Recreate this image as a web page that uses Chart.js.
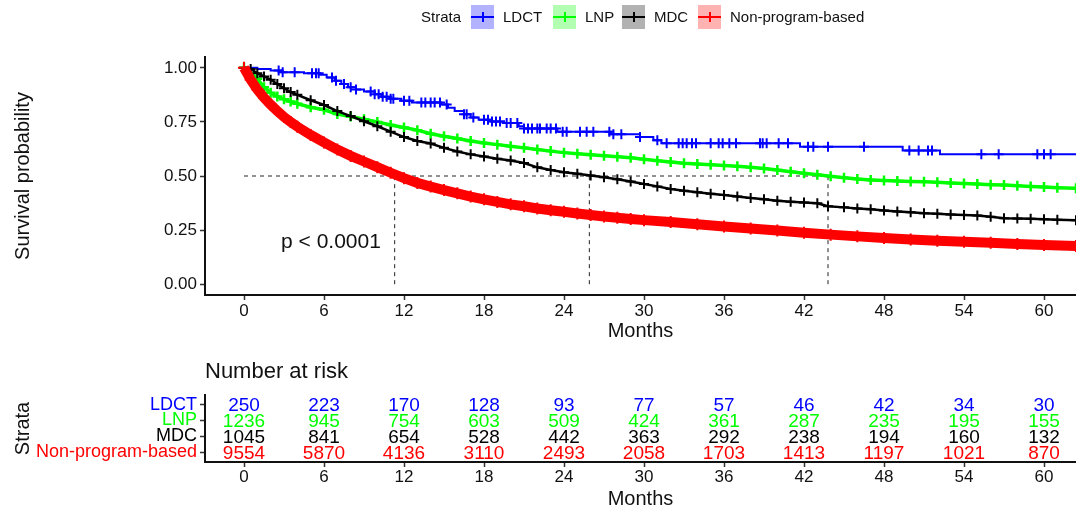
<!DOCTYPE html>
<html>
<head>
<meta charset="utf-8">
<script src="https://cdn.jsdelivr.net/npm/chart.js@4.4.1/dist/chart.umd.min.js"></script>
<style>
body{margin:0;background:#fff;font-family:"Liberation Sans",Arial,sans-serif;}
#wrap{position:relative;width:1076px;height:511px;overflow:hidden;background:#fff;}
#mainChart{position:absolute;left:0;top:0;}
#riskChart{position:absolute;left:0;top:345px;}
.lg{position:absolute;top:5px;height:24px;line-height:24px;font-size:15px;color:#111;white-space:nowrap;}
.key{position:absolute;top:5px;width:23px;height:24px;}
.key .h{position:absolute;left:0;right:0;top:11px;height:2px;}
.key .v{position:absolute;left:10.5px;width:2px;top:7px;height:10px;}
</style>
</head>
<body>
<div id="wrap">
<canvas id="mainChart" width="1076" height="345"></canvas>
<canvas id="riskChart" width="1076" height="166"></canvas>
<div id="legend"></div>
</div>
<script>
window.addEventListener("load", () => {

/* ========= DATA ========= */

const strata = ["LDCT", "LNP", "MDC", "Non-program-based"];
const strataColors = ["#0000ff", "#00ff00", "#000000", "#ff0000"];
const strataFills = ["rgba(0,0,255,0.3)", "rgba(0,255,0,0.3)", "rgba(0,0,0,0.3)", "rgba(255,0,0,0.3)"];

// LDCT: visible steps of the KM curve
const ldctStepTime = [0, 1, 2, 2.8, 4.5, 5.7, 6.2, 6.8, 7.3, 7.8, 8.4, 9, 9.8, 10.3, 11, 11.8, 12.6, 14.8, 15.3, 15.8, 16.5, 17, 17.6, 18.5, 19.5, 20.6, 21, 23.5, 27.5, 29.7, 30.7, 31.3, 41.7, 49.4, 52.2, 62.4];
const ldctStepSurv = [1, 0.995, 0.988, 0.98, 0.975, 0.968, 0.955, 0.94, 0.925, 0.91, 0.9, 0.89, 0.878, 0.866, 0.857, 0.848, 0.84, 0.83, 0.815, 0.8, 0.785, 0.77, 0.76, 0.752, 0.745, 0.73, 0.72, 0.705, 0.693, 0.68, 0.665, 0.651, 0.635, 0.618, 0.6, 0.6];
const ldctCensorTime = [2.6, 2.9, 3.8, 5.1, 5.4, 5.6, 6.6, 6.9, 7.5, 8.0, 8.4, 9.5, 9.8, 10.1, 10.4, 10.7, 11.0, 11.2, 12.0, 12.4, 13.3, 13.6, 14.0, 14.3, 14.7, 15.2, 16.5, 16.7, 17.2, 18.0, 18.3, 18.6, 18.9, 19.2, 19.7, 20.0, 20.5, 21.0, 21.3, 21.6, 22.0, 22.2, 22.7, 23.0, 23.4, 23.9, 24.2, 25.2, 25.7, 26.2, 27.4, 27.7, 28.3, 29.7, 31.0, 31.7, 32.6, 32.9, 33.2, 33.6, 33.9, 35.0, 35.6, 35.9, 36.4, 36.9, 38.7, 38.9, 39.2, 40.1, 40.8, 42.3, 42.7, 43.8, 46.5, 49.9, 50.6, 51.3, 51.6, 55.3, 56.6, 59.5, 60.0, 60.5];

const lnpTime = [0, 0.5, 1, 1.5, 2, 2.5, 3, 3.5, 4, 5, 6, 7, 8, 9, 10, 11, 12, 13, 14, 15, 16, 17, 18, 19, 20, 21, 22, 23, 24, 25, 26, 27, 28, 29, 30, 31, 32, 33, 34, 35, 36, 37, 38, 39, 40, 41, 42, 43, 44, 45, 46, 47, 48, 49, 50, 51, 52, 53, 54, 55, 56, 57, 58, 59, 60, 61, 62.4];
const lnpSurv = [1, 0.975, 0.95, 0.91, 0.885, 0.868, 0.855, 0.844, 0.834, 0.818, 0.806, 0.786, 0.775, 0.762, 0.75, 0.736, 0.724, 0.712, 0.695, 0.684, 0.673, 0.662, 0.653, 0.645, 0.637, 0.63, 0.622, 0.615, 0.608, 0.603, 0.598, 0.594, 0.589, 0.584, 0.577, 0.571, 0.565, 0.559, 0.555, 0.552, 0.549, 0.545, 0.54, 0.535, 0.528, 0.52, 0.513, 0.506, 0.499, 0.492, 0.486, 0.482, 0.479, 0.477, 0.475, 0.473, 0.471, 0.468, 0.465, 0.463, 0.46, 0.458, 0.455, 0.452, 0.449, 0.446, 0.443];

const mdcTime = [0, 0.5, 1, 1.5, 2, 2.5, 3, 3.5, 4, 5, 6, 7, 8, 9, 10, 11, 12, 13, 14, 15, 16, 17, 18, 19, 20, 21, 22, 23, 24, 25, 26, 27, 28, 29, 30, 31, 32, 33, 34, 35, 36, 37, 38, 39, 40, 41, 42, 43, 43.8, 45, 46, 47, 48, 49, 50, 51, 52, 53, 54, 55, 56, 57, 58, 59, 60, 61, 62.4];
const mdcSurv = [1, 0.995, 0.975, 0.96, 0.945, 0.925, 0.905, 0.888, 0.875, 0.85, 0.828, 0.8, 0.777, 0.753, 0.73, 0.705, 0.68, 0.662, 0.65, 0.63, 0.613, 0.6, 0.59, 0.58, 0.572, 0.56, 0.54, 0.528, 0.517, 0.51, 0.502, 0.494, 0.485, 0.475, 0.463, 0.452, 0.44, 0.432, 0.425, 0.418, 0.412, 0.405, 0.398, 0.392, 0.386, 0.381, 0.377, 0.374, 0.36, 0.355, 0.35, 0.346, 0.341, 0.336, 0.332, 0.328, 0.325, 0.322, 0.32, 0.317, 0.312, 0.305, 0.303, 0.302, 0.3, 0.298, 0.295];

const nonTime = [0, 0.5, 1, 1.5, 2, 2.5, 3, 3.5, 4, 5, 6, 7, 8, 9, 10, 11, 12, 13, 14, 15, 16, 17, 18, 19, 20, 21, 22, 23, 24, 25, 26, 27, 28, 29, 30, 32, 34, 36, 38, 40, 42, 44, 46, 48, 50, 52, 54, 56, 58, 60, 62.4];
const nonSurv = [1, 0.945, 0.9, 0.862, 0.83, 0.8, 0.773, 0.75, 0.728, 0.69, 0.655, 0.622, 0.593, 0.567, 0.541, 0.515, 0.49, 0.468, 0.451, 0.435, 0.42, 0.405, 0.392, 0.38, 0.369, 0.36, 0.35, 0.342, 0.335, 0.327, 0.32, 0.313, 0.307, 0.301, 0.296, 0.287, 0.277, 0.267, 0.257, 0.248, 0.238, 0.229, 0.221, 0.213, 0.207, 0.201, 0.196, 0.191, 0.186, 0.181, 0.176];

const medianTimes = [11.3, 25.9, 43.8];

const monthTicks = [0, 6, 12, 18, 24, 30, 36, 42, 48, 54, 60];
const survTicks = [0, 0.25, 0.5, 0.75, 1];

const riskTimes = [0, 6, 12, 18, 24, 30, 36, 42, 48, 54, 60];
const riskLdct = [250, 223, 170, 128, 93, 77, 57, 46, 42, 34, 30];
const riskLnp = [1236, 945, 754, 603, 509, 424, 361, 287, 235, 195, 155];
const riskMdc = [1045, 841, 654, 528, 442, 363, 292, 238, 194, 160, 132];
const riskNon = [9554, 5870, 4136, 3110, 2493, 2058, 1703, 1413, 1197, 1021, 870];

/* ========= HELPERS ========= */

Chart.defaults.font.family = '"Liberation Sans", Arial, sans-serif';
Chart.defaults.color = "#111";

const X_MIN = -2.925, X_MAX = 62.4;

function pts(xs, ys){ return xs.map((x,i)=>({x:x, y:ys[i]})); }

function ldctAt(t){
let v = ldctStepSurv[0];
for(let i=0;i<ldctStepTime.length;i++){ if(ldctStepTime[i] <= t) v = ldctStepSurv[i]; }
return v;
}

function curve(data,color,width,order,radius,pw){
return {
data:data, borderColor:color, backgroundColor:color, borderWidth:width,
pointStyle:"cross", pointRadius:radius, pointBorderWidth:pw||2, pointBorderColor:color,
tension:0, fill:false, order:order
};
}

/* ========= LEGEND (top) ========= */

const legendEl = document.getElementById("legend");
const keyX = [471, 553, 622, 698];
legendEl.innerHTML = '<div class="lg" style="left:421px">Strata</div>' +
strata.map((s,i)=>
'<div class="key" style="left:'+keyX[i]+'px;background:'+strataFills[i]+'">' +
'<div class="h" style="background:'+strataColors[i]+'"></div>' +
'<div class="v" style="background:'+strataColors[i]+'"></div></div>' +
'<div class="lg" style="left:'+(keyX[i]+32)+'px">'+s+'</div>'
).join("");

/* ========= MAIN KM CHART ========= */

const dashColor = "#222";
const dashSets = [{
data:[{x:0,y:0.5},{x:Math.max(...medianTimes),y:0.5}],
borderColor:dashColor, borderWidth:1, borderDash:[4,4], pointRadius:0, order:10
}].concat(medianTimes.map(m=>({
data:[{x:m,y:0},{x:m,y:0.5}],
borderColor:dashColor, borderWidth:1, borderDash:[4,4], pointRadius:0, order:10
})));

const ldctLine = curve(pts(ldctStepTime, ldctStepSurv), strataColors[0], 2, 5, 0);
ldctLine.stepped = true;
const ldctCensor = {
data: ldctCensorTime.map(t=>({x:t, y:ldctAt(t)})),
showLine:false, pointStyle:"cross", pointRadius:5, pointBorderWidth:2,
pointBorderColor:strataColors[0], borderColor:strataColors[0], order:4
};

const pvalText = {
id:"pvalText",
afterDatasetsDraw(chart){
const {ctx, scales:{x,y}} = chart;
ctx.save();
ctx.font = '21px "Liberation Sans", Arial, sans-serif';
ctx.fillStyle = "#111";
ctx.textAlign = "left";
ctx.textBaseline = "middle";
ctx.fillText("p < 0.0001", x.getPixelForValue(2.78), y.getPixelForValue(0.193));
ctx.restore();
}
};

const axisGrid = {drawOnChartArea:false, drawTicks:true, tickLength:5, tickWidth:1.5, tickColor:"#333"};
const axisBorder = {display:true, color:"#111", width:2};

new Chart(document.getElementById("mainChart"),{
type:"line",
data:{
datasets: dashSets.concat([
ldctLine,
ldctCensor,
curve(pts(lnpTime, lnpSurv), strataColors[1], 3.5, 3, 5, 2.5),
curve(pts(mdcTime, mdcSurv), strataColors[2], 2.5, 2, 5, 2),
curve(pts(nonTime, nonSurv), strataColors[3], 10, 1, 6, 2)
])
},
options:{
responsive:false,
animation:false,
events:[],
layout:{autoPadding:false, padding:{top:57, left:7, right:0, bottom:0}},
plugins:{legend:{display:false}, tooltip:{enabled:false}},
scales:{
x:{
type:"linear", min:X_MIN, max:X_MAX,
afterBuildTicks:(ax)=>{ ax.ticks = monthTicks.map(v=>({value:v})); },
afterFit:(ax)=>{ ax.height = 50; },
ticks:{font:{size:17}, padding:1, maxRotation:0, autoSkip:false},
grid:axisGrid, border:axisBorder,
title:{display:true, text:"Months", font:{size:20}, padding:{top:0,bottom:2}}
},
y:{
type:"linear", min:-0.05, max:1.05,
afterBuildTicks:(ax)=>{ ax.ticks = survTicks.map(v=>({value:v})); },
afterFit:(ax)=>{ ax.width = 198; },
ticks:{font:{size:17}, padding:3, autoSkip:false, callback:(v)=>Number(v).toFixed(2)},
grid:axisGrid, border:axisBorder,
title:{display:true, text:"Survival probability", font:{size:20}, padding:{top:4,bottom:4}}
}
}
},
plugins:[pvalText]
});

/* ========= RISK TABLE ========= */

const riskCounts = [riskLdct, riskLnp, riskMdc, riskNon];

const riskLabels = {
id:"riskLabels",
afterDatasetsDraw(chart){
const ctx = chart.ctx;
ctx.save();
ctx.font = '19px "Liberation Sans", Arial, sans-serif';
ctx.textAlign = "center";
ctx.textBaseline = "middle";
chart.data.datasets.forEach((ds,i)=>{
const meta = chart.getDatasetMeta(i);
ctx.fillStyle = ds.borderColor;
meta.data.forEach((pt,j)=>ctx.fillText(String(ds.data[j].n), pt.x, pt.y+1));
});
ctx.font = '22px "Liberation Sans", Arial, sans-serif';
ctx.fillStyle = "#111";
ctx.textAlign = "left";
ctx.fillText("Number at risk", chart.chartArea.left, chart.chartArea.top - 23);
ctx.restore();
}
};

new Chart(document.getElementById("riskChart"),{
type:"scatter",
data:{
datasets: strata.map((s,i)=>({
label:s,
data: riskTimes.map((t,j)=>({x:t, y:i+1, n:riskCounts[i][j]})),
borderColor:strataColors[i], backgroundColor:strataColors[i], pointRadius:0
}))
},
options:{
responsive:false,
animation:false,
events:[],
layout:{autoPadding:false, padding:{top:50, left:7, right:0, bottom:0}},
plugins:{legend:{display:false}, tooltip:{enabled:false}},
scales:{
x:{
type:"linear", min:X_MIN, max:X_MAX,
afterBuildTicks:(ax)=>{ ax.ticks = monthTicks.map(v=>({value:v})); },
afterFit:(ax)=>{ ax.height = 49; },
ticks:{font:{size:17}, padding:0, maxRotation:0, autoSkip:false},
grid:axisGrid, border:axisBorder,
title:{display:true, text:"Months", font:{size:20}, padding:{top:0,bottom:0}}
},
y:{
type:"linear", min:0.4, max:4.6, reverse:true,
afterBuildTicks:(ax)=>{ ax.ticks = strata.map((s,i)=>({value:i+1})); },
afterFit:(ax)=>{ ax.width = 198; },
ticks:{
font:{size:18}, padding:3, autoSkip:false,
callback:(v)=>strata[Math.round(v)-1],
color:(c)=>strataColors[Math.round(c.tick.value)-1]
},
grid:axisGrid, border:axisBorder,
title:{display:true, text:"Strata", font:{size:20}, padding:{top:4,bottom:4}}
}
}
},
plugins:[riskLabels]
});

});
</script>
</body>
</html>
